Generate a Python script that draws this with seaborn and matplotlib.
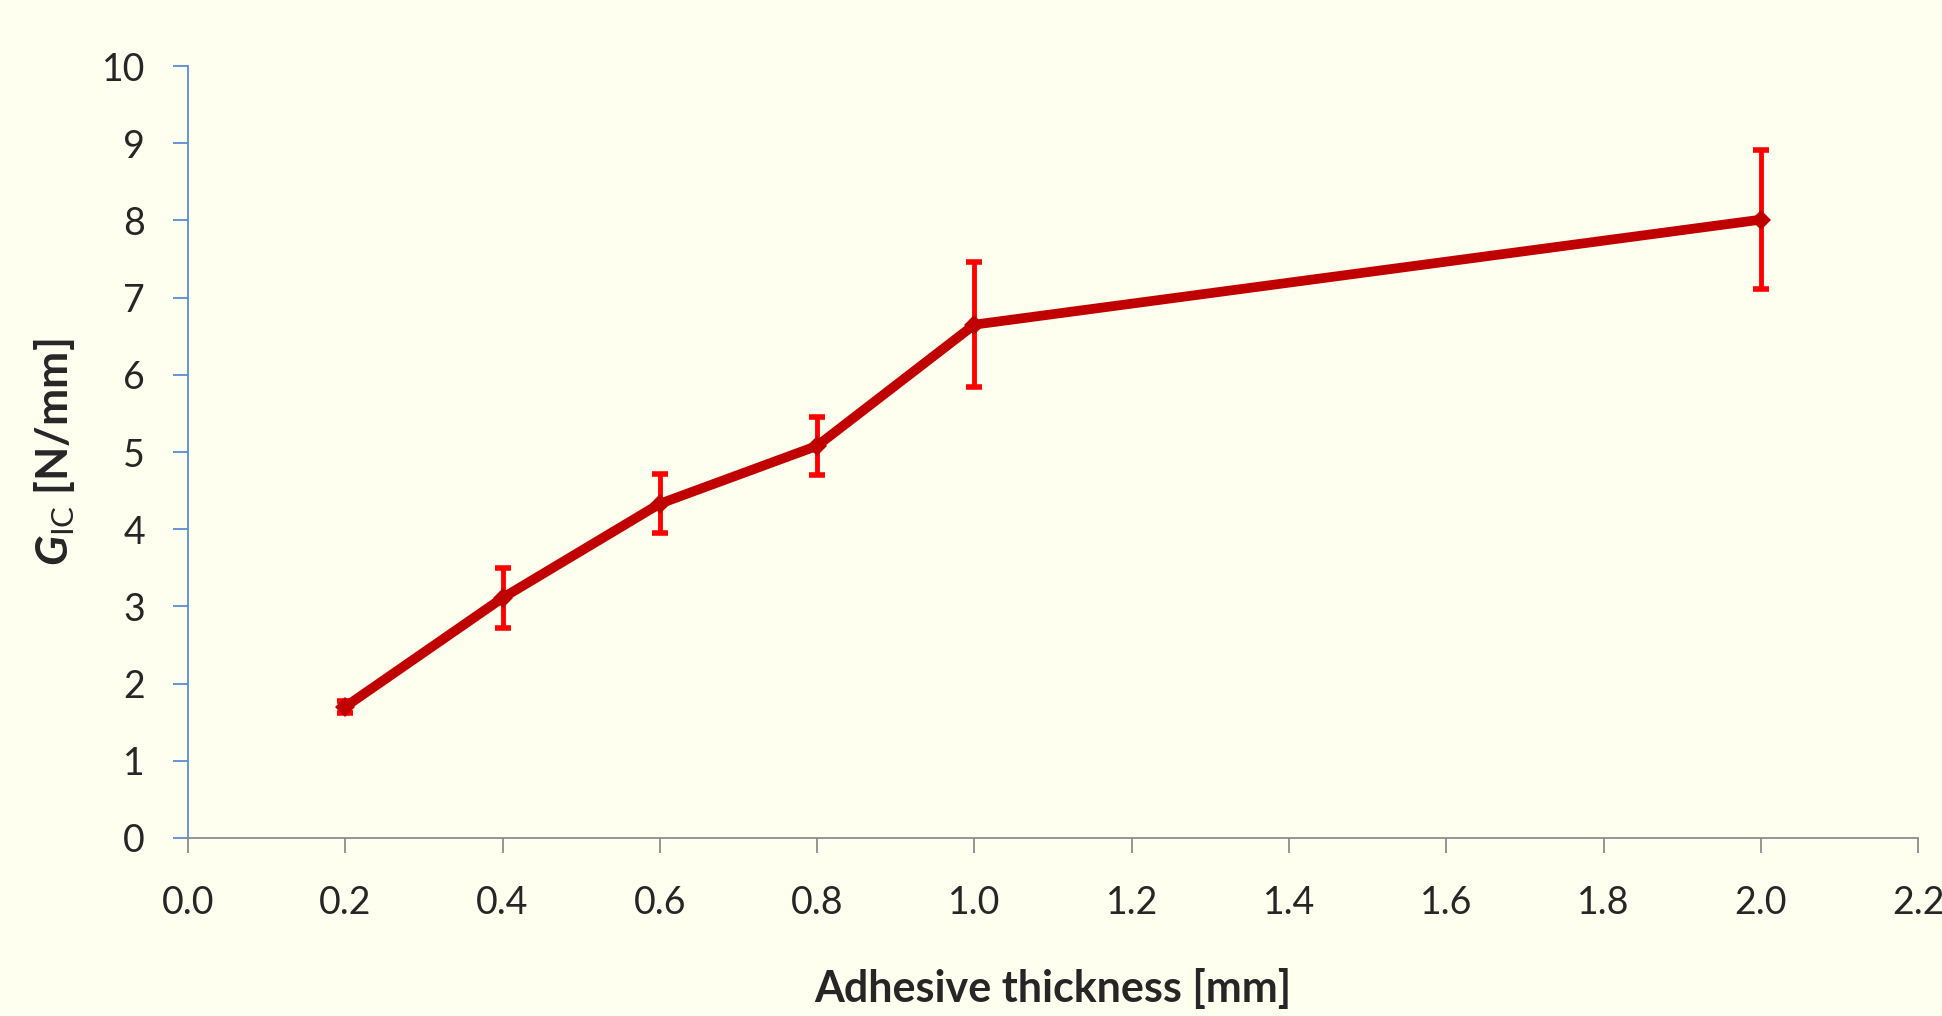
import numpy as np
import pandas as pd
import seaborn as sns
import matplotlib.pyplot as plt

sns.set_style("white")
plt.rcParams["font.family"] = ["Lato", "DejaVu Sans"]
plt.rcParams["mathtext.fontset"] = "custom"
plt.rcParams["mathtext.it"] = "Lato:italic:bold"
plt.rcParams["mathtext.rm"] = "Lato"

################################ data

thickness = [0.2, 0.4, 0.6, 0.8, 1.0, 2.0]
gic_mean = [1.70, 3.11, 4.33, 5.08, 6.65, 8.01]
gic_err = [0.08, 0.39, 0.38, 0.38, 0.81, 0.90]

df = pd.DataFrame({"thickness": thickness, "gic": gic_mean, "err": gic_err})

################################ style

BG_COLOR = "#FFFFF0"
LINE_COLOR = "#C00000"
ERR_COLOR = "#FF0000"
YAXIS_COLOR = "#5B8BD0"
XAXIS_COLOR = "#8C8C8C"
TICK_SIZE = 27
LABEL_SIZE = 31

fig = plt.figure(figsize=(19.42, 10.16), dpi=100, facecolor=BG_COLOR)
ax = fig.add_axes([0.0968, 0.1752, 0.8909, 0.7598])
ax.set_facecolor(BG_COLOR)

# error bars first so the line sits on top
ax.errorbar(df["thickness"], df["gic"], yerr=df["err"], fmt="none",
    ecolor=ERR_COLOR, elinewidth=3.5, capsize=6, capthick=4, zorder=2)
sns.lineplot(ax=ax, data=df, x="thickness", y="gic",
    color=LINE_COLOR, linewidth=7, marker="D", markersize=10,
    markeredgewidth=0, zorder=3)

ax.set_xlim(0, 2.2)
ax.set_ylim(0, 10)
ax.xaxis.set_major_locator(plt.MultipleLocator(0.2))
ax.yaxis.set_major_locator(plt.MultipleLocator(1))
ax.xaxis.set_major_formatter(plt.FormatStrFormatter("%.1f"))
ax.yaxis.set_major_formatter(plt.FormatStrFormatter("%d"))

for side in ["top", "right"]:
    ax.spines[side].set_visible(False)
ax.spines["left"].set(color=YAXIS_COLOR, linewidth=1.3)
ax.spines["bottom"].set(color=XAXIS_COLOR, linewidth=1.3)
ax.tick_params(axis="y", direction="out", length=11, width=1.3,
    color=YAXIS_COLOR, labelsize=TICK_SIZE, pad=20, left=True)
ax.tick_params(axis="x", direction="out", length=11, width=1.3,
    color=XAXIS_COLOR, labelsize=TICK_SIZE, pad=23, bottom=True)

ax.set_xlabel("Adhesive thickness [mm]", fontsize=LABEL_SIZE,
    fontweight="bold", labelpad=34)
ax.set_ylabel(r"$G_{\mathrm{IC}}$ [N/mm]", fontsize=LABEL_SIZE + 1,
    fontweight="bold", labelpad=18)

plt.savefig("out.png", dpi=100, facecolor=BG_COLOR)
plt.close()
